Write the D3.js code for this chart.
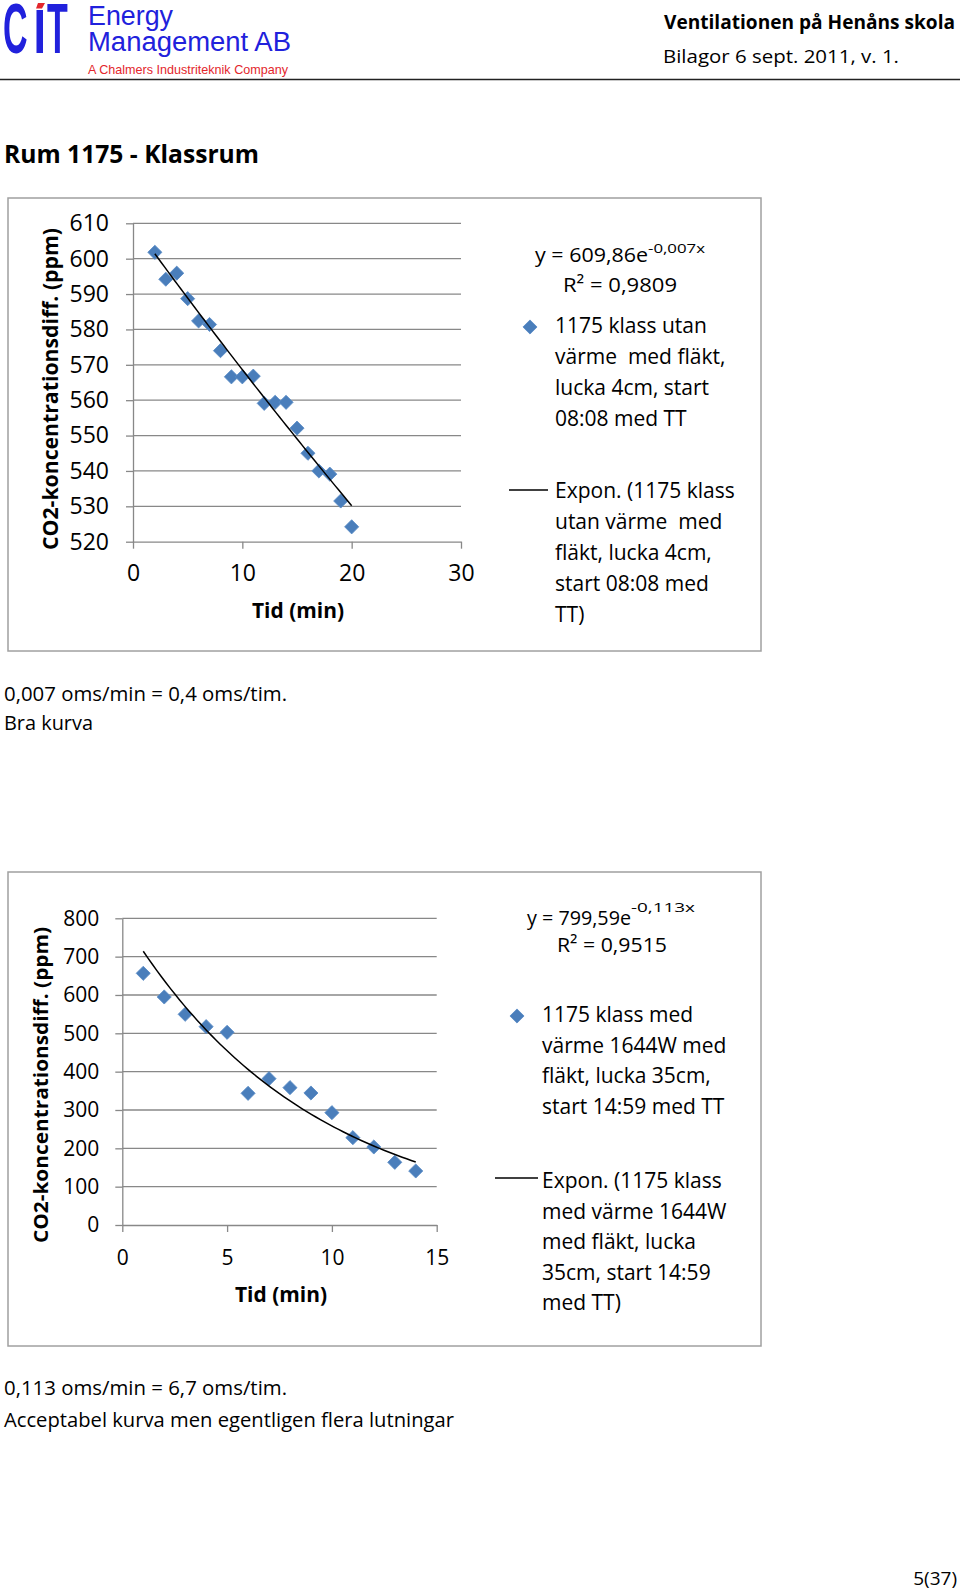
<!DOCTYPE html>
<html>
<head>
<meta charset="utf-8">
<script src="https://cdn.jsdelivr.net/npm/d3@7"></script>
<style>
  body { margin: 0; background: #fff; }
  svg { display: block; }
  text { white-space: pre; }
</style>
</head>
<body>
<svg id="page" width="960" height="1593"></svg>
<script>
// ---------------- DATA ----------------
const headerTitle = "Ventilationen på Henåns skola";
const headerSubtitle = "Bilagor 6 sept. 2011, v. 1.";
const logoLetters = ["C", "T"];
const companyLines = ["Energy", "Management AB"];
const companyTagline = "A Chalmers Industriteknik Company";
const sectionTitle = "Rum 1175 - Klassrum";
const yAxisTitle = "CO2-koncentrationsdiff. (ppm)";
const xAxisTitle = "Tid (min)";

// Chart 1
const chart1Minutes = [2, 3, 4, 5, 6, 7, 8, 9, 10, 11, 12, 13, 14, 15, 16, 17, 18, 19, 20];
const chart1Co2Diff = [601.8, 594.2, 595.9, 588.7, 582.4, 581.4, 574.0, 566.6, 566.6, 566.8,
                       559.1, 559.4, 559.4, 552.1, 545.0, 540.0, 539.1, 531.5, 524.2];
const chart1XTicks = [0, 10, 20, 30];
const chart1YTicks = [520, 530, 540, 550, 560, 570, 580, 590, 600, 610];
const chart1TrendCoef = [609.86, -0.007];          // y = a * e^(b x)
const chart1Equation = ["y = 609,86e", "-0,007x", "R² = 0,9809"];
const chart1SeriesLegend = ["1175 klass utan", "värme  med fläkt,", "lucka 4cm, start", "08:08 med TT"];
const chart1TrendLegend = ["Expon. (1175 klass", "utan värme  med", "fläkt, lucka 4cm,", "start 08:08 med", "TT)"];
const chart1Notes = ["0,007 oms/min = 0,4 oms/tim.", "Bra kurva"];

// Chart 2
const chart2Minutes = [1, 2, 3, 4, 5, 6, 7, 8, 9, 10, 11, 12, 13, 14];
const chart2Co2Diff = [656.5, 594.8, 549.6, 517.4, 502.6, 343.5, 381.7, 358.3, 344.3, 293.0,
                       227.8, 203.5, 163.5, 140.9];
const chart2XTicks = [0, 5, 10, 15];
const chart2YTicks = [0, 100, 200, 300, 400, 500, 600, 700, 800];
const chart2TrendCoef = [799.59, -0.113];
const chart2Equation = ["y = 799,59e", "-0,113x", "R² = 0,9515"];
const chart2SeriesLegend = ["1175 klass med", "värme 1644W med", "fläkt, lucka 35cm,", "start 14:59 med TT"];
const chart2TrendLegend = ["Expon. (1175 klass", "med värme 1644W", "med fläkt, lucka", "35cm, start 14:59", "med TT)"];
const chart2Notes = ["0,113 oms/min = 6,7 oms/tim.", "Acceptabel kurva men egentligen flera lutningar"];

const pageNumber = "5(37)";

// ---------------- STYLE / LAYOUT ----------------
const BODY_FONT = "'Open Sans', 'DejaVu Sans', sans-serif";
const ARIAL = "'Liberation Sans', Arial, sans-serif";
const BLUE = "#2121dc";
const MARKER = "#4a7ebb";
const GRID = "#888888";

const svg = d3.select("#page");

// ---------------- HEADER ----------------
const header = svg.append("g");
// logo "CiT": letters drawn at a small size and stretched vertically
const logoPos = [[3, 53], [47, 53]];
header.selectAll("text.logo").data(logoLetters).join("text")
  .attr("class", "logo")
  .attr("transform", (d, i) => `translate(${logoPos[i][0]},${logoPos[i][1]}) scale(1,2.05)`)
  .attr("font-family", ARIAL).attr("font-weight", "bold").attr("font-size", 34)
  .attr("fill", BLUE).text(d => d);
header.append("rect").attr("x", 36.5).attr("y", 10).attr("width", 6.5).attr("height", 43).attr("fill", BLUE);
header.append("polygon").attr("points", "38,3 45,3 42,8.5 36,8.5").attr("fill", "#e3262c");

// company name: one text block, two lines
header.append("text")
  .attr("font-family", ARIAL).attr("font-size", 27).attr("fill", BLUE)
  .selectAll("tspan").data(companyLines).join("tspan")
  .attr("x", 88).attr("y", (d, i) => 25 + i * 26)
  .attr("textLength", (d, i) => [85, 203][i]).attr("lengthAdjust", "spacingAndGlyphs")
  .text(d => d);
header.append("text").attr("x", 88).attr("y", 74).attr("font-family", ARIAL).attr("font-size", 13)
  .attr("fill", "#e3262c").attr("textLength", 200).attr("lengthAdjust", "spacingAndGlyphs").text(companyTagline);

header.append("text").attr("x", 955).attr("y", 29).attr("text-anchor", "end")
  .attr("font-family", BODY_FONT).attr("font-weight", "bold").attr("font-size", 19)
  .attr("textLength", 291).attr("lengthAdjust", "spacingAndGlyphs").text(headerTitle);
header.append("text").attr("x", 663).attr("y", 63)
  .attr("font-family", BODY_FONT).attr("font-size", 19)
  .attr("textLength", 236).attr("lengthAdjust", "spacingAndGlyphs").text(headerSubtitle);
header.append("line").attr("x1", 0).attr("x2", 960).attr("y1", 79.5).attr("y2", 79.5)
  .attr("stroke", "#222").attr("stroke-width", 1.5);

svg.append("text").attr("x", 4).attr("y", 163)
  .attr("font-family", BODY_FONT).attr("font-weight", "bold").attr("font-size", 25)
  .attr("textLength", 255).attr("lengthAdjust", "spacingAndGlyphs").text(sectionTitle);

// ---------------- CHART FUNCTION ----------------
function drawChart(cfg) {
  const g = svg.append("g");
  g.append("rect").attr("x", cfg.box[0]).attr("y", cfg.box[1]).attr("width", cfg.box[2]).attr("height", cfg.box[3])
    .attr("fill", "#fff").attr("stroke", "#a0a0a0").attr("stroke-width", 1.5);

  const x = d3.scaleLinear().domain(cfg.xDomain).range([cfg.plot.left, cfg.plot.right]);
  const y = d3.scaleLinear().domain(cfg.yDomain).range([cfg.plot.bottom, cfg.plot.top]);

  // gridlines
  g.append("g").selectAll("line").data(cfg.yTicks.filter(v => v !== cfg.yDomain[0])).join("line")
    .attr("x1", cfg.plot.left).attr("x2", cfg.plot.right)
    .attr("y1", d => y(d)).attr("y2", d => y(d))
    .attr("stroke", GRID).attr("stroke-width", 1.3);

  // y axis
  const yAx = g.append("g").attr("transform", `translate(${cfg.plot.left},0)`)
    .call(d3.axisLeft(y).tickValues(cfg.yTicks).tickSize(7).tickSizeOuter(0).tickPadding(cfg.yPad).tickFormat(d3.format("d")));
  // x axis
  const xAx = g.append("g").attr("transform", `translate(0,${cfg.plot.bottom})`)
    .call(d3.axisBottom(x).tickValues(cfg.xTicks).tickSize(7).tickSizeOuter(0).tickPadding(cfg.xPad).tickFormat(d3.format("d")));
  [yAx, xAx].forEach(a => {
    a.select(".domain").attr("stroke", GRID).attr("stroke-width", 1.3);
    a.selectAll(".tick line").attr("stroke", GRID).attr("stroke-width", 1.3);
    a.selectAll(".tick text").attr("font-family", BODY_FONT).attr("font-size", cfg.tickFont).attr("fill", "#000");
  });

  // axis titles
  g.append("text").attr("transform", `translate(${cfg.yTitle.x},${cfg.yTitle.y}) rotate(-90)`)
    .attr("text-anchor", "middle").attr("font-family", BODY_FONT).attr("font-weight", "bold")
    .attr("font-size", cfg.yTitle.size).attr("textLength", cfg.yTitle.len).attr("lengthAdjust", "spacingAndGlyphs")
    .text(yAxisTitle);
  g.append("text").attr("x", cfg.xTitle.x).attr("y", cfg.xTitle.y)
    .attr("text-anchor", "middle").attr("font-family", BODY_FONT).attr("font-weight", "bold")
    .attr("font-size", cfg.xTitle.size).attr("textLength", cfg.xTitle.len).attr("lengthAdjust", "spacingAndGlyphs")
    .text(xAxisTitle);

  // points
  const pts = cfg.xs.map((v, i) => [v, cfg.ys[i]]);
  const diamond = d3.symbol(d3.symbolSquare, 100);
  g.append("g").selectAll("path").data(pts).join("path")
    .attr("d", diamond)
    .attr("transform", d => `translate(${x(d[0])},${y(d[1])}) rotate(45)`)
    .attr("fill", MARKER).attr("stroke", "#5b8cc6").attr("stroke-width", 0.8);

  // exponential trendline from the displayed equation
  const [a, b] = cfg.trend;
  const x0 = d3.min(cfg.xs), x1 = d3.max(cfg.xs);
  const tx = d3.range(x0, x1 + 1e-9, (x1 - x0) / 60);
  g.append("path").datum(tx.map(t => [t, a * Math.exp(b * t)]))
    .attr("d", d3.line().x(d => x(d[0])).y(d => y(d[1])))
    .attr("fill", "none").attr("stroke", "#000").attr("stroke-width", 1.5);

  // legend: equation
  const L = cfg.legend;
  g.append("text").attr("x", L.eq.x).attr("y", L.eq.y).attr("font-family", BODY_FONT).attr("font-size", 20)
    .attr("textLength", L.eq.len).attr("lengthAdjust", "spacingAndGlyphs").text(cfg.equation[0]);
  g.append("text").attr("x", L.eq.x + L.eq.len).attr("y", L.eq.supY).attr("font-family", BODY_FONT).attr("font-size", 13.5)
    .attr("textLength", L.eq.supLen).attr("lengthAdjust", "spacingAndGlyphs").text(cfg.equation[1]);
  g.append("text").attr("x", L.eq.rx).attr("y", L.eq.ry).attr("font-family", BODY_FONT).attr("font-size", 20)
    .attr("textLength", L.eq.rLen).attr("lengthAdjust", "spacingAndGlyphs").text(cfg.equation[2]);

  // legend: series
  g.append("path").attr("d", d3.symbol(d3.symbolSquare, 100))
    .attr("transform", `translate(${L.marker[0]},${L.marker[1]}) rotate(45)`)
    .attr("fill", MARKER).attr("stroke", "#5b8cc6").attr("stroke-width", 0.8);
  g.append("g").selectAll("text").data(cfg.seriesLegend).join("text")
    .attr("x", L.textX).attr("y", (d, i) => L.seriesY + i * L.step)
    .attr("font-family", BODY_FONT).attr("font-size", 21).attr("fill", "#000").text(d => d);

  // legend: trend
  g.append("line").attr("x1", L.line[0]).attr("x2", L.line[1]).attr("y1", L.line[2]).attr("y2", L.line[2])
    .attr("stroke", "#000").attr("stroke-width", 1.5);
  g.append("g").selectAll("text").data(cfg.trendLegend).join("text")
    .attr("x", L.textX).attr("y", (d, i) => L.trendY + i * L.step)
    .attr("font-family", BODY_FONT).attr("font-size", 21).attr("fill", "#000").text(d => d);

  // notes under chart
  svg.append("g").selectAll("text").data(cfg.notes).join("text")
    .attr("x", 4).attr("y", (d, i) => cfg.notesY[i])
    .attr("font-family", BODY_FONT).attr("font-size", 19.5)
    .attr("textLength", (d, i) => cfg.notesLen[i]).attr("lengthAdjust", "spacingAndGlyphs")
    .text(d => d);
}

drawChart({
  box: [8, 198, 753, 453],
  xDomain: [0, 30], yDomain: [520, 610],
  plot: { left: 133, right: 461, top: 223.3, bottom: 541.7 },
  xTicks: chart1XTicks, yTicks: chart1YTicks,
  yPad: 17, xPad: 16, tickFont: 23,
  yTitle: { x: 58, y: 389, len: 322, size: 21 },
  xTitle: { x: 298, y: 618, len: 92, size: 21 },
  xs: chart1Minutes, ys: chart1Co2Diff, trend: chart1TrendCoef,
  equation: chart1Equation, seriesLegend: chart1SeriesLegend, trendLegend: chart1TrendLegend,
  legend: {
    eq: { x: 535, y: 262, len: 113, supY: 253, supLen: 57, rx: 563, ry: 292, rLen: 114 },
    marker: [530, 327], textX: 555, seriesY: 333, trendY: 498, step: 31,
    line: [509, 548, 490]
  },
  notes: chart1Notes, notesY: [701, 730], notesLen: [283, 89]
});

drawChart({
  box: [8, 872, 753, 474],
  xDomain: [0, 15], yDomain: [0, 800],
  plot: { left: 122.3, right: 436.7, top: 918.3, bottom: 1225 },
  xTicks: chart2XTicks, yTicks: chart2YTicks,
  yPad: 16, xPad: 18, tickFont: 21,
  yTitle: { x: 48, y: 1085, len: 316, size: 20 },
  xTitle: { x: 281, y: 1302, len: 92, size: 21 },
  xs: chart2Minutes, ys: chart2Co2Diff, trend: chart2TrendCoef,
  equation: chart2Equation, seriesLegend: chart2SeriesLegend, trendLegend: chart2TrendLegend,
  legend: {
    eq: { x: 527, y: 925, len: 104, supY: 912, supLen: 64, rx: 557, ry: 952, rLen: 110 },
    marker: [517, 1016], textX: 542, seriesY: 1022, trendY: 1188, step: 30.5,
    line: [495, 538, 1178]
  },
  notes: chart2Notes, notesY: [1395, 1427], notesLen: [283, 450]
});

svg.append("text").attr("x", 957).attr("y", 1585).attr("text-anchor", "end")
  .attr("font-family", BODY_FONT).attr("font-size", 19).text(pageNumber);
</script>
</body>
</html>
